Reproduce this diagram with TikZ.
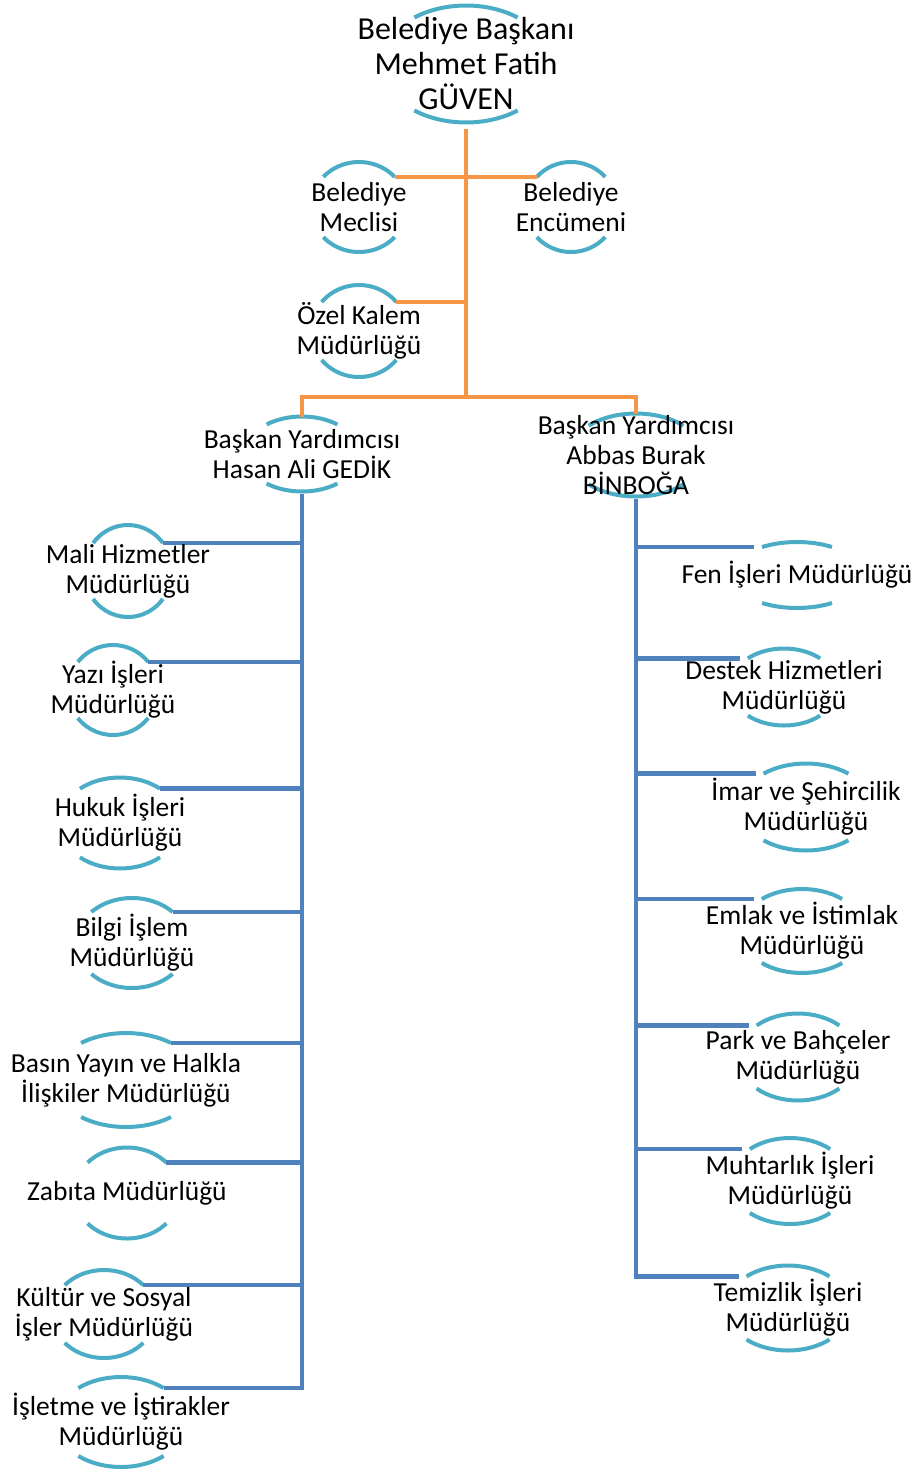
\documentclass[tikz,border=0pt]{standalone}
\usepackage{fontspec}
\setmainfont{Carlito}
\usepackage{tikz}
\usetikzlibrary{calc,backgrounds}

\definecolor{rimcyan}{HTML}{4BACC6}
\definecolor{linkorange}{HTML}{F79646}
\definecolor{linkblue}{HTML}{4F81BD}

% two rims round a unit: name, x radius, y radius, angle of the rim ends
\newcommand{\rims}[4]{%
  \draw[rim] ($(#1.center)+(#4:#2pt and #3pt)$) coordinate (#1-tr)
    arc[start angle=#4, end angle=180-#4, x radius=#2pt, y radius=#3pt] coordinate (#1-tl);
  \draw[rim] ($(#1.center)+(180+#4:#2pt and #3pt)$)
    arc[start angle=180+#4, end angle=360-#4, x radius=#2pt, y radius=#3pt];
  \coordinate (#1-t) at ($(#1.center)+(0pt,#3pt)$);
  \coordinate (#1-b) at ($(#1.center)+(0pt,-#3pt)$);
}

\begin{document}
\begin{tikzpicture}[x=1pt, y=1pt,
    unit/.style={align=center, inner sep=0pt, font=\fontsize{27.5}{30}\selectfont},
    rim/.style={draw=rimcyan, line width=4pt},
    topline/.style={draw=linkorange, line width=4.5pt},
    subline/.style={draw=linkblue, line width=4.5pt}]
    \useasboundingbox (0, 0) rectangle (920, -1470);

    \node[unit, font=\fontsize{32}{35}\selectfont] (mayor) at (466, -64) {Belediye Başkanı\\Mehmet Fatih\\GÜVEN};
    \node[unit] (council) at (359, -207) {Belediye\\Meclisi};
    \node[unit] (committee) at (571, -207) {Belediye\\Encümeni};
    \node[unit] (privoffice) at (359, -331) {Özel Kalem\\Müdürlüğü};
    \node[unit] (vpleft) at (302, -454) {Başkan Yardımcısı\\Hasan Ali GEDİK};
    \node[unit] (vpright) at (636, -455) {Başkan Yardımcısı\\Abbas Burak\\BİNBOĞA};

    % left column
    \node[unit] (finance) at (128, -571) {Mali Hizmetler\\Müdürlüğü};
    \node[unit] (writing) at (113, -690) {Yazı İşleri\\Müdürlüğü};
    \node[unit] (legal) at (120, -823) {Hukuk İşleri\\Müdürlüğü};
    \node[unit] (itdept) at (132, -943) {Bilgi İşlem\\Müdürlüğü};
    \node[unit] (press) at (126, -1080) {Basın Yayın ve Halkla\\İlişkiler Müdürlüğü};
    \node[unit] (police) at (127, -1193) {Zabıta Müdürlüğü};
    \node[unit] (culture) at (104, -1314) {Kültür ve Sosyal\\İşler Müdürlüğü};
    \node[unit] (business) at (121, -1422) {İşletme ve İştirakler\\Müdürlüğü};

    % right column
    \node[unit] (works) at (797, -575) {Fen İşleri Müdürlüğü};
    \node[unit] (support) at (784, -687) {Destek Hizmetleri\\Müdürlüğü};
    \node[unit] (zoning) at (806, -807) {İmar ve Şehircilik\\Müdürlüğü};
    \node[unit] (estate) at (802, -931) {Emlak ve İstimlak\\Müdürlüğü};
    \node[unit] (park) at (798, -1057) {Park ve Bahçeler\\Müdürlüğü};
    \node[unit] (headman) at (790, -1181) {Muhtarlık İşleri\\Müdürlüğü};
    \node[unit] (cleaning) at (788, -1308) {Temizlik İşleri\\Müdürlüğü};

    \begin{scope}[on background layer]
        \rims{mayor}{85}{58.5}{52.6}
        \rims{council}{48}{45}{42}
        \rims{committee}{46}{45}{42}
        \rims{privoffice}{48}{46}{39}
        \rims{vpleft}{57.5}{37.5}{52}
        \rims{vpright}{67}{41.5}{45}
        \rims{finance}{44}{46}{37.5}
        \rims{writing}{45}{45}{38.5}
        \rims{legal}{61}{45.5}{49}
        \rims{itdept}{56}{45}{43.5}
        \rims{press}{73}{47}{52}
        \rims{police}{53}{45.5}{42}
        \rims{culture}{52}{44}{41}
        \rims{business}{65}{45}{49}
        \rims{works}{66}{33}{58}
        \rims{support}{54}{38.5}{48}
        \rims{zoning}{66}{43.5}{50}
        \rims{estate}{62}{42}{49.6}
        \rims{park}{60}{43.5}{46.4}
        \rims{headman}{60}{43}{48}
        \rims{cleaning}{62}{42.5}{48}

        \coordinate (fork) at (466, -397);
        \draw[topline, shorten <=6pt] (mayor-b) -- (fork);
        \draw[topline] (council-tr) -- (committee-tl);
        \draw[topline] (privoffice-tr) -- (privoffice-tr -| fork);
        \draw[topline] (vpleft-t) |- (fork) -| (vpright-t);

        \draw[subline, shorten <=2pt] (vpleft-b) |- (business-tr);
        \foreach \n in {finance, writing, legal, itdept, press, police, culture}
            \draw[subline] (vpleft-b |- \n-tr) -- (\n-tr);
        \draw[subline, shorten <=2pt, shorten >=8pt] (vpright-b) |- (cleaning-tl);
        \foreach \n in {works, support, zoning, estate, park, headman}
            \draw[subline, shorten >=8pt] (vpright-b |- \n-tl) -- (\n-tl);
    \end{scope}
\end{tikzpicture}
\end{document}
